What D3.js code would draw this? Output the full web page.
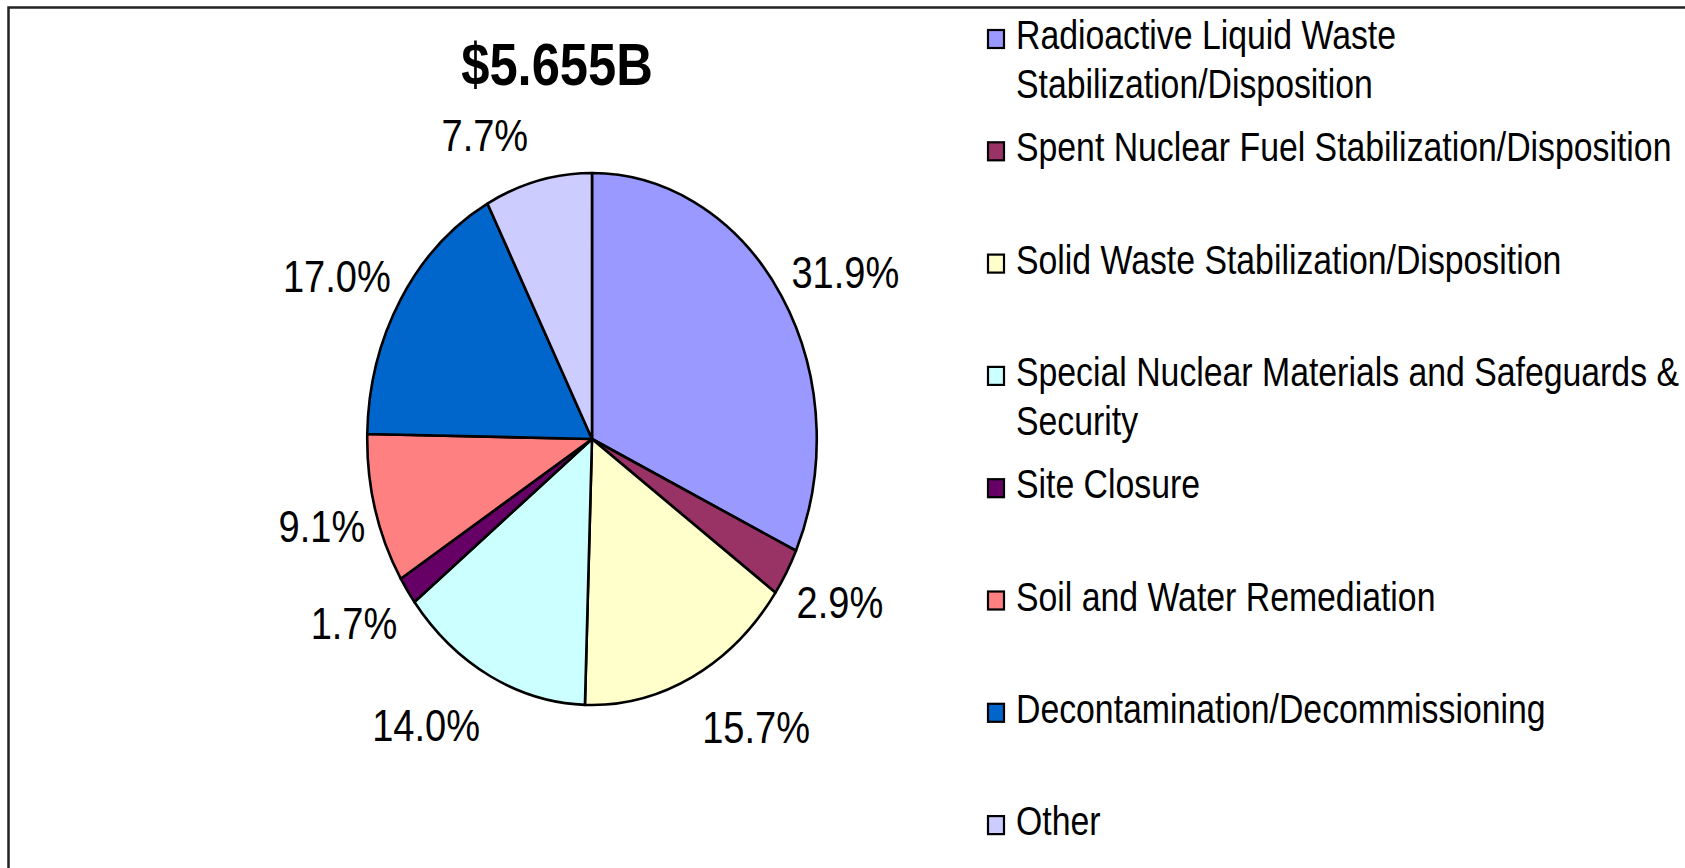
<!DOCTYPE html>
<html>
<head>
<meta charset="utf-8">
<script src="https://cdn.jsdelivr.net/npm/d3@7"></script>
<style>
  html, body { margin: 0; padding: 0; background: #fff; }
  svg { display: block; font-family: "Liberation Sans", Arial, sans-serif; }
</style>
</head>
<body>
<div id="chart"></div>
<script>
// Budget split by program area
const categories = [
  "Radioactive Liquid Waste Stabilization/Disposition",
  "Spent Nuclear Fuel Stabilization/Disposition",
  "Solid Waste Stabilization/Disposition",
  "Special Nuclear Materials and Safeguards & Security",
  "Site Closure",
  "Soil and Water Remediation",
  "Decontamination/Decommissioning",
  "Other"
];
const shares = [31.9, 2.9, 15.7, 14.0, 1.7, 9.1, 17.0, 7.7];
const colors = ["#9999FF", "#993366", "#FFFFCC", "#CCFFFF", "#660066", "#FF8080", "#0066CC", "#CCCCFF"];
const totalLabel = "$5.655B";

const width = 1685;
const height = 868;
const sx = 0.845;          // the whole chart is squeezed horizontally
const cx = 592, cy = 439, radius = 266;

const svg = d3.select("#chart")
  .append("svg")
  .attr("width", width)
  .attr("height", height);

// frame (only top and left edges are in view)
svg.append("path")
  .attr("d", `M8.5,${height} V7.5 H${width}`)
  .attr("fill", "none")
  .attr("stroke", "#222")
  .attr("stroke-width", 2.5);

const color = d3.scaleOrdinal().domain(categories).range(colors);

const arcs = d3.pie().sort(null).value(d => d.value)(
  categories.map((c, i) => ({ name: c, value: shares[i] }))
);

const arc = d3.arc().innerRadius(0).outerRadius(radius);

const pieG = svg.append("g")
  .attr("transform", `translate(${cx},${cy}) scale(${sx},1)`);

pieG.selectAll("path")
  .data(arcs)
  .join("path")
  .attr("d", arc)
  .attr("fill", d => color(d.data.name))
  .attr("stroke", "#000")
  .attr("stroke-width", 2.6)
  .attr("vector-effect", "non-scaling-stroke")
  .attr("stroke-linejoin", "round");

// percentage labels outside the slices, pushed out by half their width
const midAngle = d => (d.startAngle + d.endAngle) / 2;
const labelGap = 10, labelRy = 317;

svg.append("g")
  .selectAll("text")
  .data(arcs)
  .join("text")
  .attr("text-anchor", "middle")
  .attr("dy", "0.35em")
  .attr("font-size", 45)
  .attr("fill", "#000")
  .text(d => d.data.value.toFixed(1) + "%")
  .attr("transform", function(d) {
    const a = midAngle(d);
    const hw = this.getComputedTextLength() * sx / 2;
    const s = Math.sin(a);
    const x = cx + sx * radius * s + Math.sign(s) * (hw + labelGap);
    const y = cy + 4 - labelRy * Math.cos(a);
    return `translate(${x},${y}) scale(${sx},1)`;
  });

// total
svg.append("text")
  .attr("transform", `translate(557,85) scale(${sx},1)`)
  .attr("text-anchor", "middle")
  .attr("font-size", 60)
  .attr("font-weight", "bold")
  .text(totalLabel);

// legend
const legendX = 988, legendTop = 49, legendStep = 112.3, lineH = 49, maxW = 700;

const item = svg.append("g")
  .selectAll("g")
  .data(categories)
  .join("g")
  .attr("transform", (d, i) => `translate(0,${legendTop + i * legendStep})`);

item.append("rect")
  .attr("x", legendX)
  .attr("y", -19)
  .attr("width", 16)
  .attr("height", 18)
  .attr("fill", d => color(d))
  .attr("stroke", "#000")
  .attr("stroke-width", 2.2);

item.append("text")
  .attr("transform", `translate(${legendX + 28},0) scale(${sx},1)`)
  .attr("font-size", 40)
  .each(function(d) {
    const text = d3.select(this);
    const words = d.split(" ");
    let line = [];
    let tspan = text.append("tspan").attr("x", 0).attr("y", 0);
    let row = 0;
    words.forEach(w => {
      line.push(w);
      tspan.text(line.join(" "));
      if (tspan.node().getComputedTextLength() * sx > maxW && line.length > 1) {
        line.pop();
        tspan.text(line.join(" "));
        line = [w];
        row++;
        tspan = text.append("tspan").attr("x", 0).attr("y", row * lineH).text(w);
      }
    });
  });
</script>
</body>
</html>
